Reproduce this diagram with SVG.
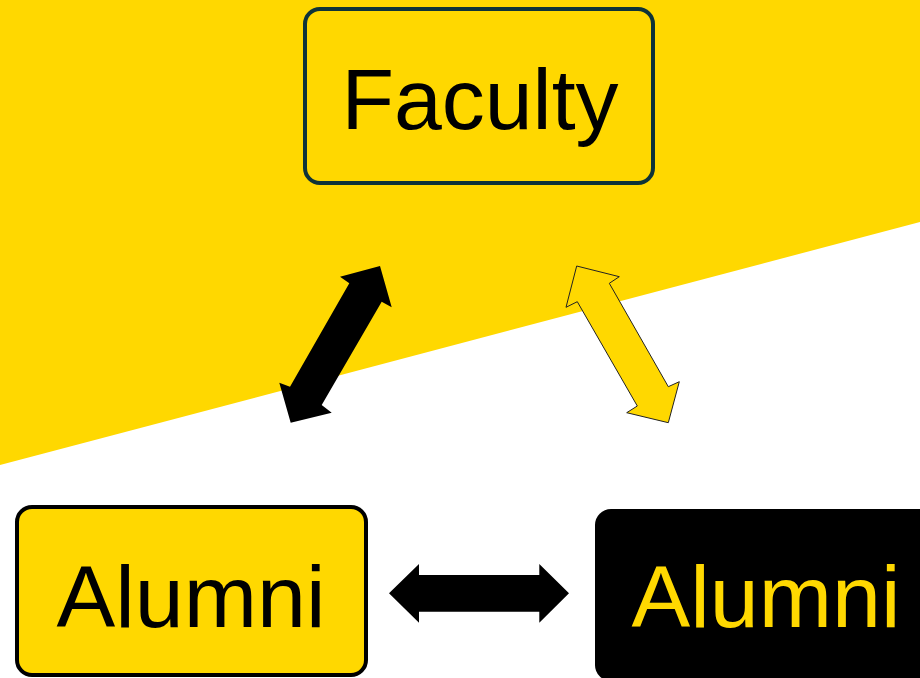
<svg xmlns="http://www.w3.org/2000/svg" width="920" height="678" viewBox="0 0 920 678">
<style>
.lbl{font-family:"Liberation Sans",Arial,sans-serif;text-anchor:middle}
</style>
<rect width="920" height="678" fill="#ffffff"/>
<polygon points="0,0 920,0 920,222 0,465" fill="#FFD800"/>
<g id="connectors">
<polygon points="380,266 391.7,307.3 381.7,301.7 321.7,405 331.7,412.7 290.7,422.7 279.3,382.7 290,386.7 349.3,283.3 340,276.7" fill="#000"/>
<polygon points="576.7,266 619.3,276.7 609.3,283.3 668.3,386.7 679.3,381.7 668.3,422.7 626.7,412.7 637.3,406 577.3,301.7 566,307.3" fill="#FFD800" stroke="#222" stroke-width="1"/>
<polygon points="389,593.3 419,564 419,575 539.3,575 539.3,564 569,593.3 539.3,622.7 539.3,611.7 419,611.7 419,622.7" fill="#000"/>
</g>
<g id="faculty">
<rect x="305" y="9" width="348" height="174" rx="15" fill="#FFD800" stroke="#0e3338" stroke-width="4"/>
<text class="lbl" x="480" y="129" font-size="86" fill="#000">Faculty</text>
</g>
<g id="alumni-left">
<rect x="17" y="507" width="349" height="168" rx="15" fill="#FFD800" stroke="#000" stroke-width="4"/>
<text class="lbl" x="191" y="627" font-size="88" fill="#000">Alumni</text>
</g>
<g id="alumni-right">
<rect x="595" y="509" width="345" height="172" rx="16" fill="#000"/>
<text class="lbl" x="766" y="627" font-size="88" fill="#FFD800">Alumni</text>
</g>
</svg>
